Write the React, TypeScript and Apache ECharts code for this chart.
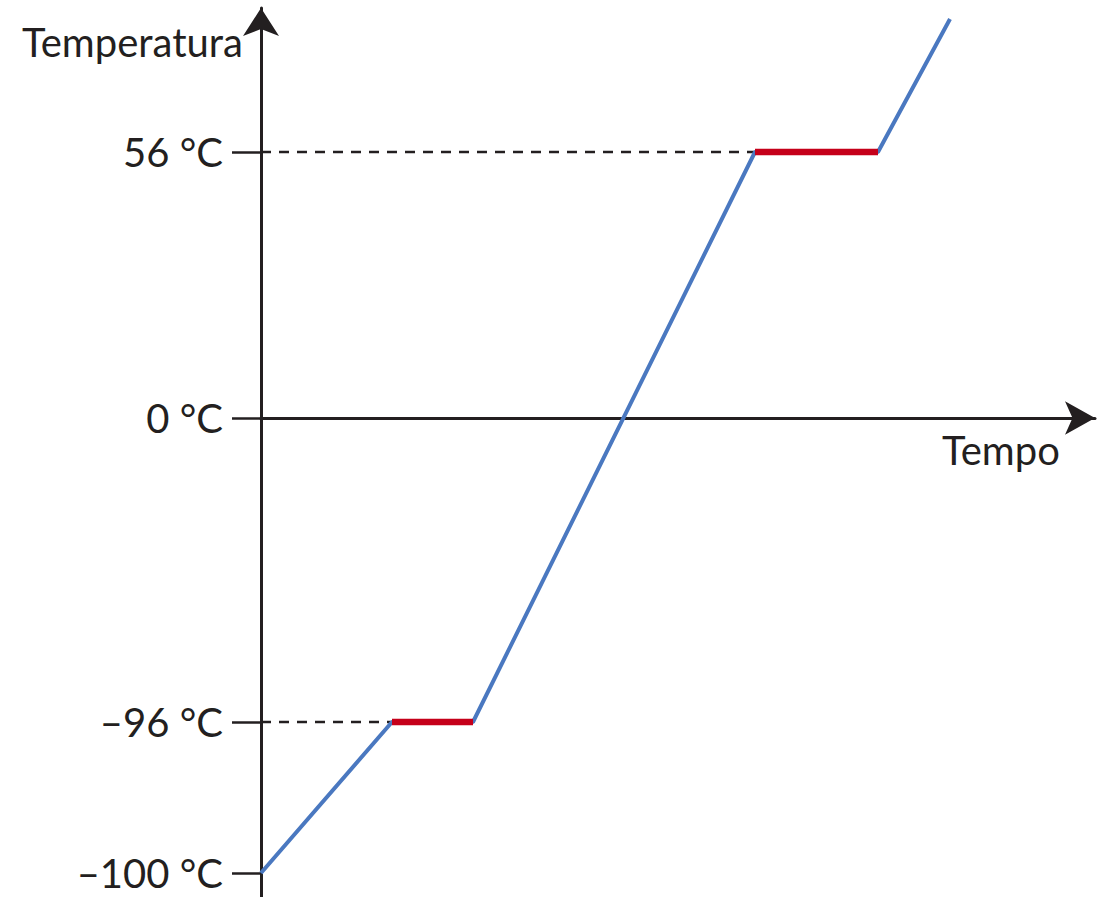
import React, { useEffect, useRef } from 'react';
import * as echarts from 'echarts';

// Temperature levels marked on the (schematic) vertical axis
const tempLevels = [-100, -96, 0, 56];
const tempLabels = ['–100 °C', '–96 °C', '0 °C', '56 °C'];
// Heating curve (time in arbitrary units, temperature in °C)
const times = [0, 13.1, 21.2, 49.4, 61.7, 68.9];
const temps = [-100, -96, -96, 56, 56, 84];
// Plateaus (phase changes): index pairs into times/temps
const plateauStart = [1, 3];
const plateauEnd = [2, 4];
// Levels with dashed guide lines
const guideLevels = [-96, 56];
const timeMax = 83.4;

// Schematic (piecewise-linear) scale of the temperature axis
const scaleT = [-100, -96, 0, 56];
const scaleU = [-455, -304, 0, 266];
function toAxis(t: number): number {
  let i = 0;
  if (t >= scaleT[scaleT.length - 1]) i = scaleT.length - 2;
  else {
    while (i < scaleT.length - 2 && t > scaleT[i + 1]) i++;
  }
  const k = (scaleU[i + 1] - scaleU[i]) / (scaleT[i + 1] - scaleT[i]);
  return scaleU[i] + (t - scaleT[i]) * k;
}

const BLUE = '#4a78c0';
const RED = '#c5001a';
const INK = '#231f20';
const FONT = 'Lato, "Open Sans", sans-serif';

export default function App() {
  const ref = useRef<HTMLDivElement>(null);
  useEffect(() => {
    if (!ref.current) return;
    const chart = echarts.init(ref.current, null, { renderer: 'svg' });
    const levelPos = tempLevels.map(toAxis);
    const curve = times.map((x, i) => [x, toAxis(temps[i])]);
    const series: any[] = [
      {
        type: 'line',
        data: curve,
        symbol: 'none',
        clip: false,
        lineStyle: { color: BLUE, width: 4 },
        z: 3,
      },
    ];
    plateauStart.forEach((s, j) => {
      const e = plateauEnd[j];
      series.push({
        type: 'line',
        data: [curve[s], curve[e]],
        symbol: 'none',
        clip: false,
        lineStyle: { color: RED, width: 6.5, cap: 'butt' },
        z: 4,
      });
    });
    guideLevels.forEach((lv) => {
      const idx = temps.indexOf(lv);
      series.push({
        type: 'line',
        data: [[0, toAxis(lv)], [times[idx], toAxis(lv)]],
        symbol: 'none',
        lineStyle: { color: INK, width: 2.5, type: [10, 8] },
        z: 2,
      });
    });
    chart.setOption({
      animation: false,
      backgroundColor: '#ffffff',
      grid: { left: 261, right: 9, top: 8, bottom: 0, containLabel: false },
      xAxis: {
        type: 'value',
        min: 0,
        max: timeMax,
        splitLine: { show: false },
        axisTick: { show: false },
        axisLabel: { show: false },
        axisLine: {
          onZero: true,
          symbol: ['none', 'arrow'],
          symbolSize: [25, 30],
          lineStyle: { color: INK, width: 3 },
        },
      },
      yAxis: {
        type: 'value',
        min: -479,
        max: 410,
        splitLine: { show: false },
        axisLine: {
          onZero: true,
          symbol: ['none', 'arrow'],
          symbolSize: [27, 28],
          lineStyle: { color: INK, width: 3 },
        },
        axisTick: {
          show: true,
          customValues: levelPos,
          length: 29,
          lineStyle: { color: INK, width: 2.5 },
        },
        axisLabel: {
          show: true,
          customValues: levelPos,
          margin: 38,
          color: INK,
          fontFamily: FONT,
          fontSize: 40,
          formatter: (v: number) => {
            let best = 0;
            levelPos.forEach((p, i) => {
              if (Math.abs(p - v) < Math.abs(levelPos[best] - v)) best = i;
            });
            return tempLabels[best];
          },
        },
      },
      graphic: [
        {
          type: 'text',
          left: 22,
          top: 22,
          style: { text: 'Temperatura', fill: INK, font: `40px ${FONT}` },
        },
        {
          type: 'text',
          left: 942,
          top: 430,
          style: { text: 'Tempo', fill: INK, font: `40px ${FONT}` },
        },
      ],
      series,
    });
    return () => chart.dispose();
  }, []);
  return (
    <div
      ref={ref}
      style={{ position: 'fixed', left: 0, top: 0, width: 1104, height: 897 }}
    />
  );
}
